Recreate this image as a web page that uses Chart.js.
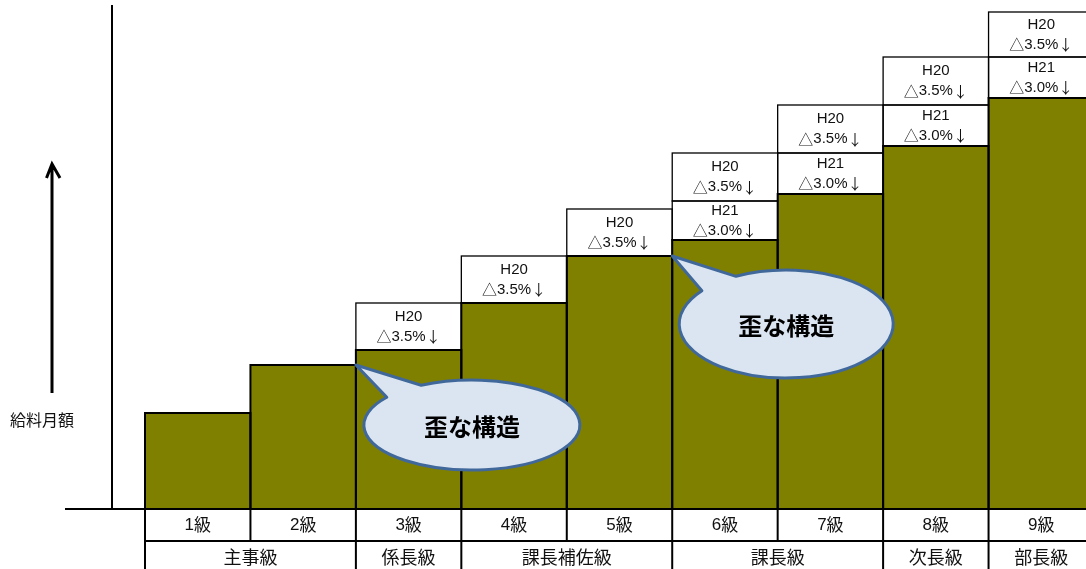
<!DOCTYPE html>
<html>
<head>
<meta charset="utf-8">
<script src="https://cdn.jsdelivr.net/npm/chart.js@4"></script>
<style>
  html, body { margin: 0; padding: 0; background: #fff; overflow: hidden; }
  canvas { display: block; }
</style>
</head>
<body>
<canvas id="steps" width="1100" height="569"></canvas>
<script>
const grades = ['1級', '2級', '3級', '4級', '5級', '6級', '7級', '8級', '9級'];
const baseSalary = [96, 144, 159, 206, 253, 269, 315, 363, 411];
const cutH21 = [null, null, null, null, null, 39, 41, 41, 41];
const cutH20 = [null, null, 47, 47, 47, 48, 48, 48, 45];
const labelH21 = ['H21', '△3.0%↓'];
const labelH20 = ['H20', '△3.5%↓'];
const groupNames = ['主事級', '係長級', '課長補佐級', '課長級', '次長級', '部長級'];
const groupSpans = [2, 1, 2, 2, 1, 1];
const axisTitle = '給料月額';
const calloutText = '歪な構造';
const calloutBars = [2, 5];

const FONT = "'Noto Sans CJK JP', 'Noto Sans', sans-serif";
const LATIN = "'Liberation Sans', sans-serif";

// latin glyphs in Liberation, symbols/kanji in the CJK font
function mixedText(ctx, str, x, y, size) {
  const parts = [];
  for (const ch of str) {
    const cjk = ch.charCodeAt(0) > 127;
    const last = parts[parts.length - 1];
    if (last && last.cjk === cjk) last.s += ch; else parts.push({ s: ch, cjk });
  }
  let total = 0;
  parts.forEach(p => {
    ctx.font = size + 'px ' + (p.cjk ? FONT : LATIN);
    p.w = ctx.measureText(p.s).width;
    total += p.w;
  });
  let cx = x - total / 2;
  ctx.textAlign = 'left';
  parts.forEach(p => {
    ctx.font = size + 'px ' + (p.cjk ? FONT : LATIN);
    ctx.fillText(p.s, cx, y);
    cx += p.w;
  });
}

const stepPlugin = {
  id: 'steps',
  afterDatasetsDraw(chart) {
    const ctx = chart.ctx;
    const area = chart.chartArea;
    const W = chart.width;
    ctx.save();

    // white cut boxes + their labels
    const boxes = [[1, labelH21], [2, labelH20]];
    boxes.forEach(([di, lines]) => {
      const meta = chart.getDatasetMeta(di);
      meta.data.forEach((el, i) => {
        if (chart.data.datasets[di].data[i] == null) return;
        const p = el.getProps(['x', 'y', 'base', 'width'], true);
        ctx.strokeStyle = '#000';
        ctx.lineWidth = 1.3;
        ctx.strokeRect(p.x - p.width / 2, p.y, p.width, p.base - p.y);
        const cy = (p.y + p.base) / 2;
        ctx.fillStyle = '#111';
        ctx.textBaseline = 'middle';
        mixedText(ctx, lines[0], p.x, cy - 10, 15);
        mixedText(ctx, lines[1], p.x, cy + 10, 15);
      });
    });

    // olive bar outlines
    const bars = chart.getDatasetMeta(0).data;
    ctx.lineWidth = 2;
    ctx.strokeStyle = '#000';
    bars.forEach(el => {
      const p = el.getProps(['x', 'y', 'base', 'width'], true);
      ctx.strokeRect(p.x - p.width / 2, p.y, p.width, p.base - p.y);
    });

    // axis lines
    const bottom = area.bottom;
    ctx.beginPath();
    ctx.moveTo(112, area.top);
    ctx.lineTo(112, bottom);
    ctx.moveTo(65, bottom);
    ctx.lineTo(W, bottom);
    ctx.stroke();

    // table under the bars
    const edges = bars.map(el => el.x - el.width / 2);
    const last = bars[bars.length - 1];
    edges.push(last.x + last.width / 2);
    const row1 = bottom + 32;
    ctx.lineWidth = 2;
    ctx.beginPath();
    ctx.moveTo(edges[0], row1);
    ctx.lineTo(W, row1);
    edges.forEach(x => { ctx.moveTo(x, bottom); ctx.lineTo(x, row1); });
    let k = 0;
    ctx.moveTo(edges[0], row1);
    ctx.lineTo(edges[0], chart.height);
    groupSpans.forEach(s => {
      k += s;
      ctx.moveTo(edges[k], row1);
      ctx.lineTo(edges[k], chart.height);
    });
    ctx.stroke();

    ctx.fillStyle = '#111';
    ctx.textBaseline = 'middle';
    grades.forEach((g, i) => mixedText(ctx, g, bars[i].x, bottom + 16, 17));
    ctx.textAlign = 'center';
    ctx.font = '18px ' + FONT;
    k = 0;
    groupNames.forEach((g, j) => {
      const x0 = edges[k];
      k += groupSpans[j];
      ctx.fillText(g, (x0 + edges[k]) / 2, row1 + 16);
    });

    // y axis title with arrow
    ctx.lineWidth = 3;
    ctx.beginPath();
    ctx.moveTo(52, 393);
    ctx.lineTo(52, 165);
    ctx.moveTo(46.5, 178);
    ctx.lineTo(52, 164);
    ctx.lineTo(60, 178);
    ctx.stroke();
    ctx.font = '16px ' + FONT;
    ctx.textAlign = 'left';
    ctx.fillText(axisTitle, 10, 420);

    // speech bubbles pointing at the step corners
    const shapes = [
      { dx: 116, dy: 60, rx: 108, ry: 45 },
      { dx: 114, dy: 68, rx: 107, ry: 54 }
    ];
    calloutBars.forEach((bi, j) => {
      const tipX = bars[bi].x - bars[bi].width / 2;
      const tipY = bars[bi - 1].y;
      const s = shapes[j];
      const cx = tipX + s.dx, cy = tipY + s.dy;
      const a1 = -118 * Math.PI / 180, a2 = -142 * Math.PI / 180;
      ctx.beginPath();
      ctx.moveTo(cx + s.rx * Math.cos(a1), cy + s.ry * Math.sin(a1));
      ctx.lineTo(tipX, tipY);
      ctx.lineTo(cx + s.rx * Math.cos(a2), cy + s.ry * Math.sin(a2));
      ctx.ellipse(cx, cy, s.rx, s.ry, 0, a2, a1, true);
      ctx.closePath();
      ctx.fillStyle = '#dbe5f1';
      ctx.fill();
      ctx.strokeStyle = '#41689a';
      ctx.lineWidth = 3;
      ctx.lineJoin = 'round';
      ctx.stroke();
      ctx.fillStyle = '#000';
      ctx.font = 'bold 24px ' + FONT;
      ctx.textAlign = 'center';
      ctx.textBaseline = 'middle';
      ctx.fillText(calloutText, cx, cy + 2);
    });

    ctx.restore();
  }
};

new Chart(document.getElementById('steps'), {
  type: 'bar',
  data: {
    labels: grades,
    datasets: [
      { label: 'base', data: baseSalary, backgroundColor: '#808000', borderWidth: 0 },
      { label: 'H21', data: cutH21, backgroundColor: '#ffffff', borderWidth: 0 },
      { label: 'H20', data: cutH20, backgroundColor: '#ffffff', borderWidth: 0 }
    ]
  },
  options: {
    responsive: false,
    animation: false,
    layout: { padding: { left: 145, right: 6, top: 5, bottom: 60 } },
    datasets: { bar: { categoryPercentage: 1, barPercentage: 1 } },
    plugins: { legend: { display: false }, tooltip: { enabled: false } },
    scales: {
      x: { display: false, stacked: true },
      y: { display: false, stacked: true, min: 0, max: 504 }
    }
  },
  plugins: [stepPlugin]
});
</script>
</body>
</html>
